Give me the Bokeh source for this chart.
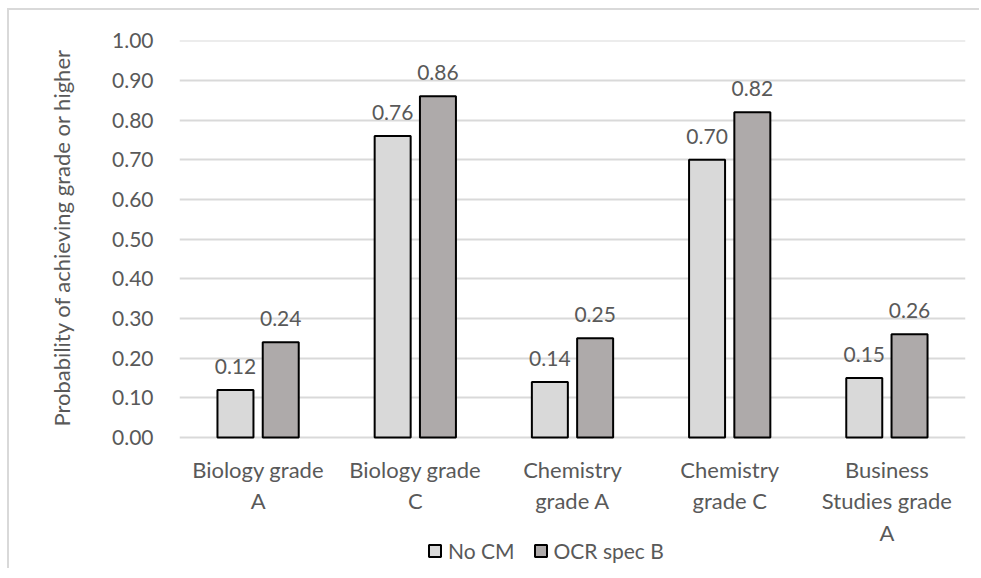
from bokeh.plotting import figure
from bokeh.models import (ColumnDataSource, FactorRange, FixedTicker, NumeralTickFormatter,
                          LabelSet, Legend, LegendItem, Title)
from bokeh.transform import dodge
from bokeh.core.properties import value
from bokeh.embed import file_html
from bokeh.resources import INLINE

categories = ["Biology grade\nA", "Biology grade\nC", "Chemistry\ngrade A",
              "Chemistry\ngrade C", "Business\nStudies grade\nA"]
no_cm = [0.12, 0.76, 0.14, 0.70, 0.15]
ocr_spec_b = [0.24, 0.86, 0.25, 0.82, 0.26]
y_ticks = [0.0, 0.1, 0.2, 0.3, 0.4, 0.5, 0.6, 0.7, 0.8, 0.9, 1.0]

FONT = "Lato"
TXT = "#595959"
FS = "21px"

src = ColumnDataSource(dict(
    cat=categories, no_cm=no_cm, ocr=ocr_spec_b,
    no_cm_lbl=[f"{v:.2f}" for v in no_cm],
    ocr_lbl=[f"{v:.2f}" for v in ocr_spec_b],
))

# one row per wrapped line of each category label, so every line is centred
line_cat, line_txt, line_off = [], [], []
for c in categories:
    for i, part in enumerate(c.split("\n")):
        line_cat.append(c)
        line_txt.append(part)
        line_off.append(-18 - 31.5 * i)
lines_src = ColumnDataSource(dict(cat=line_cat, txt=line_txt, off=line_off))

# frame extends below zero so that category labels and legend sit inside it
p = figure(x_range=FactorRange(*categories, range_padding=0), y_range=(-0.33, 1.0005),
           frame_width=786, frame_height=528, output_backend="svg", toolbar_location=None,
           min_border_left=170, min_border_right=14, min_border_top=30, min_border_bottom=0)
p.styles = {"border-left": "2px solid #d9d9d9", "border-top": "2px solid #d9d9d9",
            "margin-top": "8px", "margin-left": "7px"}
p.outline_line_color = None
p.background_fill_color = "white"

r1 = p.vbar(x=dodge("cat", -0.144, range=p.x_range), top="no_cm", width=0.229, source=src,
            fill_color="#d9d9d9", line_color="black", line_width=2)
r2 = p.vbar(x=dodge("cat", 0.144, range=p.x_range), top="ocr", width=0.229, source=src,
            fill_color="#aeaaaa", line_color="black", line_width=2)

for col, txt, off in (("no_cm", "no_cm_lbl", -0.144), ("ocr", "ocr_lbl", 0.144)):
    lbl = LabelSet(x=dodge("cat", off, range=p.x_range), y=col, text=txt,
                   source=src, text_align="center", text_baseline="bottom", y_offset=16,
                   text_font=value(FONT), text_font_size=FS, text_color=TXT)
    p.add_layout(lbl)

# category labels
cat_lbl = LabelSet(x="cat", y=value(0), y_offset="off", text="txt", source=lines_src,
                   text_align="center", text_baseline="top",
                   text_font=value(FONT), text_font_size="22px", text_color=TXT)
p.add_layout(cat_lbl)
p.xaxis.visible = False

p.yaxis.ticker = FixedTicker(ticks=y_ticks)
p.yaxis.formatter = NumeralTickFormatter(format="0.00")
ax = p.yaxis[0]
ax.axis_line_color = None
ax.major_tick_line_color = None
ax.minor_tick_line_color = None
ax.major_label_text_font = FONT
ax.major_label_text_font_size = FS
ax.major_label_text_color = TXT
ax.major_label_standoff = 20
ax.axis_label = " "
ax.axis_label_text_font_size = "22px"
ax.axis_label_standoff = 7

ytitle = Title(text="Probability of achieving grade or higher", align="left", offset=142,
               text_font=FONT, text_font_size="22px", text_font_style="normal",
               text_color=TXT, standoff=0)
p.add_layout(ytitle, "left")

p.xgrid.grid_line_color = None
p.ygrid.grid_line_color = "#d9d9d9"
p.ygrid.grid_line_width = 2

legend = Legend(items=[LegendItem(label="No CM", renderers=[r1]),
                       LegendItem(label="OCR spec B", renderers=[r2])],
                orientation="horizontal", location=(248, 5),
                padding=0, margin=0, spacing=18, glyph_width=15, glyph_height=15,
                label_standoff=6, label_text_font=FONT, label_text_font_size=FS,
                label_text_color=TXT, border_line_color=None, background_fill_alpha=0)
p.add_layout(legend)

open("out.html", "w").write(file_html(p, INLINE))
